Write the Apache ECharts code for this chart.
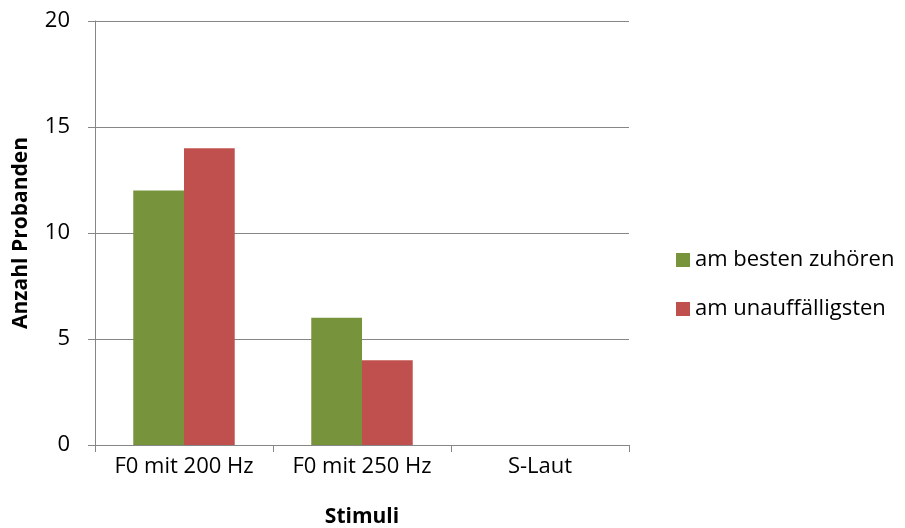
<!DOCTYPE html>
<html><head><meta charset="utf-8">
<script src="https://cdn.jsdelivr.net/npm/echarts@6/dist/echarts.min.js"></script>
<style>html,body{margin:0;padding:0;background:#fff}#c{width:905px;height:528px}</style>
</head><body><div id="c"></div>
<script>
const categories = ['F0 mit 200 Hz', 'F0 mit 250 Hz', 'S-Laut'];
const seriesNames = ['am besten zuhören', 'am unauffälligsten'];
const besten = [12, 6, 0];
const unauffaellig = [14, 4, 0];
const FONT = '"Open Sans", sans-serif';
const chart = echarts.init(document.getElementById('c'));
chart.setOption({
  animation: false,
  textStyle: { fontFamily: FONT, color: '#000' },
  grid: { left: 95, right: 276, top: 21, bottom: 83, containLabel: false, outerBoundsMode: 'none' },
  legend: {
    orient: 'vertical', left: 671, top: 244, itemWidth: 14, itemHeight: 14, itemGap: 27,
    icon: 'rect',
    textStyle: { fontFamily: FONT, fontSize: 22, color: '#000', padding: [0,0,0,0] },
    data: seriesNames
  },
  xAxis: {
    type: 'category', data: categories,
    name: 'Stimuli', nameLocation: 'middle', nameGap: 62,
    nameTextStyle: { fontFamily: FONT, fontSize: 21, fontWeight: 'bold', color: '#000' },
    axisLine: { lineStyle: { color: '#868686', width: 1 } },
    axisTick: { show: true, length: 7, lineStyle: { color: '#868686' } },
    axisLabel: { fontFamily: FONT, fontSize: 22, color: '#000', margin: 11, interval: 0, hideOverlap: false }
  },
  yAxis: {
    type: 'value', min: 0, max: 20, interval: 5,
    name: 'Anzahl Probanden', nameLocation: 'middle', nameGap: 63, nameRotate: 90,
    nameTextStyle: { fontFamily: FONT, fontSize: 21, fontWeight: 'bold', color: '#000' },
    axisLine: { show: true, lineStyle: { color: '#868686', width: 1 } },
    axisTick: { show: true, length: 7, inside: false, lineStyle: { color: '#868686' } },
    splitLine: { lineStyle: { color: '#868686', width: 1 } },
    axisLabel: { fontFamily: FONT, fontSize: 22, color: '#000', margin: 25 }
  },
  series: [
    { name: seriesNames[0], type: 'bar', data: besten, itemStyle: { color: '#77933C' }, barGap: '0%', barCategoryGap: '43%' },
    { name: seriesNames[1], type: 'bar', data: unauffaellig, itemStyle: { color: '#C0504D' }, barGap: '0%', barCategoryGap: '43%' }
  ]
});
</script></body></html>
